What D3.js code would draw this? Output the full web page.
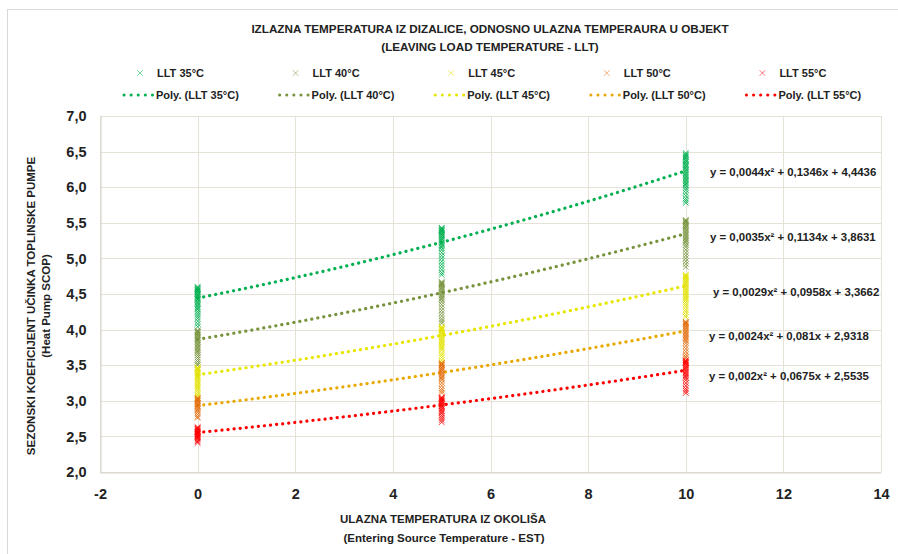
<!DOCTYPE html>
<html>
<head>
  <meta charset="UTF-8" />
  <title>SCOP</title>
  <script src="https://d3js.org/d3.v7.min.js"></script>
  <style>
    body { margin: 0; background: #fff; }
    text { font-family: "Liberation Sans Narrow", "Arial Narrow", "Liberation Sans", sans-serif; font-weight: bold; fill: #222; }
  </style>
</head>
<body>
<div id="chart"></div>
<script>
  // values
  const estValues = [0, 5, 10];
  const seriesNames = ["LLT 35°C", "LLT 40°C", "LLT 45°C", "LLT 50°C", "LLT 55°C"];
  const markerColors = ["#00B050", "#77933C", "#E2E200", "#E46C0A", "#FF0000"];
  const trendColors = ["#00B050", "#77933C", "#E6E600", "#E8A800", "#FF0000"];

  const scop35 = [
    [4.60,4.59,4.58,4.57,4.56,4.55,4.54,4.53,4.52,4.50,4.49,4.48,4.46,4.45,4.43,4.42,4.40,4.38,4.36,4.34,4.32,4.30,4.28,4.25,4.22,4.19,4.16,4.12,4.08,4.04],
    [5.43,5.42,5.41,5.40,5.39,5.38,5.37,5.35,5.34,5.33,5.31,5.30,5.28,5.27,5.25,5.23,5.21,5.19,5.17,5.15,5.12,5.08,5.04,5.00,4.96,4.92,4.88,4.84,4.80,4.77],
    [6.48,6.46,6.45,6.43,6.42,6.40,6.38,6.37,6.35,6.33,6.31,6.30,6.28,6.26,6.24,6.22,6.20,6.18,6.16,6.14,6.12,6.10,6.08,6.06,6.04,6.02,5.99,5.96,5.92,5.88,5.84,5.81,5.78]
  ];
  const scop40 = [
    [3.99,3.98,3.97,3.96,3.95,3.93,3.92,3.91,3.89,3.88,3.86,3.85,3.83,3.81,3.79,3.77,3.75,3.73,3.71,3.69,3.67,3.64,3.61,3.58,3.55,3.52,3.50],
    [4.67,4.66,4.65,4.64,4.63,4.62,4.60,4.59,4.57,4.56,4.54,4.52,4.50,4.48,4.46,4.44,4.42,4.39,4.35,4.31,4.27,4.23,4.19,4.15,4.12,4.09],
    [5.54,5.53,5.52,5.51,5.50,5.48,5.47,5.45,5.44,5.42,5.40,5.38,5.36,5.34,5.32,5.30,5.28,5.26,5.24,5.22,5.19,5.16,5.12,5.08,5.04,5.00,4.96,4.92,4.88]
  ];
  const scop45 = [
    [3.47,3.46,3.45,3.44,3.43,3.42,3.40,3.39,3.37,3.36,3.34,3.33,3.31,3.29,3.27,3.25,3.23,3.21,3.19,3.17,3.15,3.12,3.09,3.07,3.05],
    [4.04,4.03,4.02,4.01,4.00,3.99,3.97,3.96,3.94,3.93,3.91,3.89,3.87,3.85,3.83,3.81,3.79,3.77,3.75,3.73,3.71,3.67,3.64,3.61,3.57,3.54],
    [4.77,4.76,4.75,4.74,4.73,4.71,4.70,4.68,4.67,4.65,4.63,4.61,4.59,4.57,4.55,4.53,4.51,4.49,4.47,4.45,4.43,4.41,4.38,4.35,4.32,4.28,4.25,4.21,4.18]
  ];
  const scop50 = [
    [3.04,3.03,3.02,3.01,3.00,2.99,2.97,2.96,2.95,2.93,2.92,2.90,2.88,2.86,2.84,2.81,2.78,2.76],
    [3.53,3.52,3.51,3.50,3.49,3.47,3.46,3.44,3.43,3.41,3.39,3.37,3.35,3.33,3.31,3.29,3.25,3.21,3.17,3.14,3.11],
    [4.11,4.10,4.09,4.08,4.07,4.05,4.04,4.02,4.00,3.98,3.96,3.94,3.92,3.90,3.88,3.86,3.84,3.81,3.77,3.73,3.69,3.65,3.62,3.60]
  ];
  const scop55 = [
    [2.63,2.62,2.61,2.60,2.59,2.58,2.57,2.56,2.55,2.54,2.53,2.52,2.51,2.50,2.49,2.48,2.47,2.45,2.43,2.41],
    [3.05,3.04,3.03,3.02,3.01,3.00,2.99,2.98,2.96,2.95,2.93,2.92,2.90,2.88,2.86,2.84,2.82,2.79,2.76,2.73,2.70],
    [3.57,3.56,3.55,3.54,3.53,3.52,3.50,3.49,3.47,3.46,3.44,3.42,3.40,3.38,3.36,3.34,3.32,3.29,3.25,3.21,3.17,3.14,3.11]
  ];

  // polynomial trendline coefficients (y = a x^2 + b x + c)
  const trendA = [0.0044, 0.0035, 0.0029, 0.0024, 0.002];
  const trendB = [0.1346, 0.1134, 0.0958, 0.081, 0.0675];
  const trendC = [4.4436, 3.8631, 3.3662, 2.9318, 2.5535];
  const equations = [
    "y = 0,0044x² + 0,1346x + 4,4436",
    "y = 0,0035x² + 0,1134x + 3,8631",
    "y = 0,0029x² + 0,0958x + 3,3662",
    "y = 0,0024x² + 0,081x + 2,9318",
    "y = 0,002x² + 0,0675x + 2,5535"
  ];

  const xTicks = [-2, 0, 2, 4, 6, 8, 10, 12, 14];
  const yTicks = [2, 2.5, 3, 3.5, 4, 4.5, 5, 5.5, 6, 6.5, 7];

  const allSeries = [scop35, scop40, scop45, scop50, scop55];

  const width = 898, height = 554;
  const svg = d3.select("#chart")
    .append("svg")
    .attr("width", width)
    .attr("height", height);

  // chart frame (top and left edges visible)
  svg.append("line").attr("x1", 7).attr("x2", width).attr("y1", 9.5).attr("y2", 9.5)
    .attr("stroke", "#d9d9d9");
  svg.append("line").attr("x1", 7.5).attr("x2", 7.5).attr("y1", 9).attr("y2", height)
    .attr("stroke", "#d9d9d9");

  const xScale = d3.scaleLinear().domain([-2, 14]).range([100, 881]);
  const yScale = d3.scaleLinear().domain([2, 7]).range([472, 116]);

  // grid
  svg.append("g").selectAll("line")
    .data(xTicks)
    .enter()
    .append("line")
    .attr("x1", d => Math.round(xScale(d)) + 0.5)
    .attr("x2", d => Math.round(xScale(d)) + 0.5)
    .attr("y1", yScale(7))
    .attr("y2", yScale(2))
    .attr("stroke", "#e6e2d8");
  svg.append("g").selectAll("line")
    .data(yTicks)
    .enter()
    .append("line")
    .attr("x1", xScale(-2))
    .attr("x2", xScale(14))
    .attr("y1", d => Math.round(yScale(d)) + 0.5)
    .attr("y2", d => Math.round(yScale(d)) + 0.5)
    .attr("stroke", "#e6e2d8");

  // axes
  const xAxis = d3.axisBottom(xScale).tickValues(xTicks).tickSize(0).tickPadding(16)
    .tickFormat(d => d3.format("d")(d).replace("−", "-"));
  const yAxis = d3.axisLeft(yScale).tickValues(yTicks).tickSize(0).tickPadding(14)
    .tickFormat(d => d.toFixed(1).replace(".", ","));

  const gx = svg.append("g")
    .attr("transform", "translate(0," + (Math.round(yScale(2)) + 0.5) + ")")
    .call(xAxis);
  const gy = svg.append("g")
    .attr("transform", "translate(" + (Math.round(xScale(-2)) + 0.5) + ",0)")
    .call(yAxis);
  gx.select(".domain").attr("stroke", "#d6d2c6");
  gy.select(".domain").attr("stroke", "#d6d2c6");
  svg.selectAll(".tick text").style("font-size", "14.5px").attr("fill", "#1a1a1a")
    .style("font-family", "\"Liberation Sans Narrow\", \"Liberation Sans\", sans-serif").style("font-weight", "bold");

  // trendlines
  const line = d3.line()
    .x(d => xScale(d[0]))
    .y(d => yScale(d[1]));
  const trendX = d3.range(0, 10.001, 0.25);
  allSeries.forEach((s, i) => {
    svg.append("path")
      .datum(trendX.map(x => [x, trendA[i] * x * x + trendB[i] * x + trendC[i]]))
      .attr("d", line)
      .attr("fill", "none")
      .attr("stroke", trendColors[i])
      .attr("stroke-width", 3.2)
      .attr("stroke-linecap", "round")
      .attr("stroke-dasharray", "0.1 6");
  });

  // scatter markers (x shape)
  const cross = "M-2.8,-2.8L2.8,2.8M2.8,-2.8L-2.8,2.8";
  allSeries.forEach((s, i) => {
    const pts = [];
    s.forEach((col, j) => col.forEach(v => pts.push({ x: estValues[j], y: v })));
    svg.append("g").selectAll("path")
      .data(pts)
      .enter()
      .append("path")
      .attr("d", cross)
      .attr("transform", d => "translate(" + xScale(d.x) + "," + yScale(d.y) + ")")
      .attr("fill", "none")
      .attr("stroke", markerColors[i])
      .attr("stroke-width", 1)
      .attr("stroke-opacity", 0.8);
  });

  // equation labels
  const eqPos = [[710, 172], [710, 237], [713, 292], [709, 336], [709, 376]];
  svg.append("g").selectAll("text")
    .data(equations)
    .enter()
    .append("text")
    .attr("x", (d, i) => eqPos[i][0])
    .attr("y", (d, i) => eqPos[i][1] + 4)
    .style("font-size", "11.4px")
    .text(d => d);

  // titles
  svg.append("text").attr("x", 490).attr("y", 33).attr("text-anchor", "middle")
    .style("font-size", "11.7px").text("IZLAZNA TEMPERATURA IZ DIZALICE, ODNOSNO ULAZNA TEMPERAURA U OBJEKT");
  svg.append("text").attr("x", 490).attr("y", 51).attr("text-anchor", "middle")
    .style("font-size", "11.7px").text("(LEAVING LOAD TEMPERATURE - LLT)");

  svg.append("text").attr("x", 443).attr("y", 523).attr("text-anchor", "middle")
    .style("font-size", "11.5px").text("ULAZNA TEMPERATURA IZ OKOLIŠA");
  svg.append("text").attr("x", 444).attr("y", 542).attr("text-anchor", "middle")
    .style("font-size", "11.5px").text("(Entering Source Temperature - EST)");

  svg.append("text").attr("transform", "translate(35,306) rotate(-90)").attr("text-anchor", "middle")
    .style("font-size", "11.5px").text("SEZONSKI KOEFICIJENT UČINKA TOPLINSKE PUMPE");
  svg.append("text").attr("transform", "translate(50,306) rotate(-90)").attr("text-anchor", "middle")
    .style("font-size", "11.5px").text("(Heat Pump SCOP)");

  // legend
  const legend = svg.append("g");
  seriesNames.forEach((name, i) => {
    const mx = 140 + i * 155.6;
    legend.append("path")
      .attr("d", cross)
      .attr("transform", "translate(" + mx + ",73)")
      .attr("fill", "none")
      .attr("stroke", markerColors[i])
      .attr("stroke-opacity", 0.55)
      .attr("stroke-width", 1);
    legend.append("text").attr("x", mx + 17).attr("y", 77)
      .style("font-size", "11px").text(name);
    legend.append("line")
      .attr("x1", mx - 16).attr("x2", mx + 14)
      .attr("y1", 95).attr("y2", 95)
      .attr("stroke", trendColors[i])
      .attr("stroke-width", 3)
      .attr("stroke-linecap", "round")
      .attr("stroke-dasharray", "0.1 7");
    legend.append("text").attr("x", mx + 16).attr("y", 99)
      .style("font-size", "11px").text("Poly. (" + name + ")");
  });
</script>
</body>
</html>
